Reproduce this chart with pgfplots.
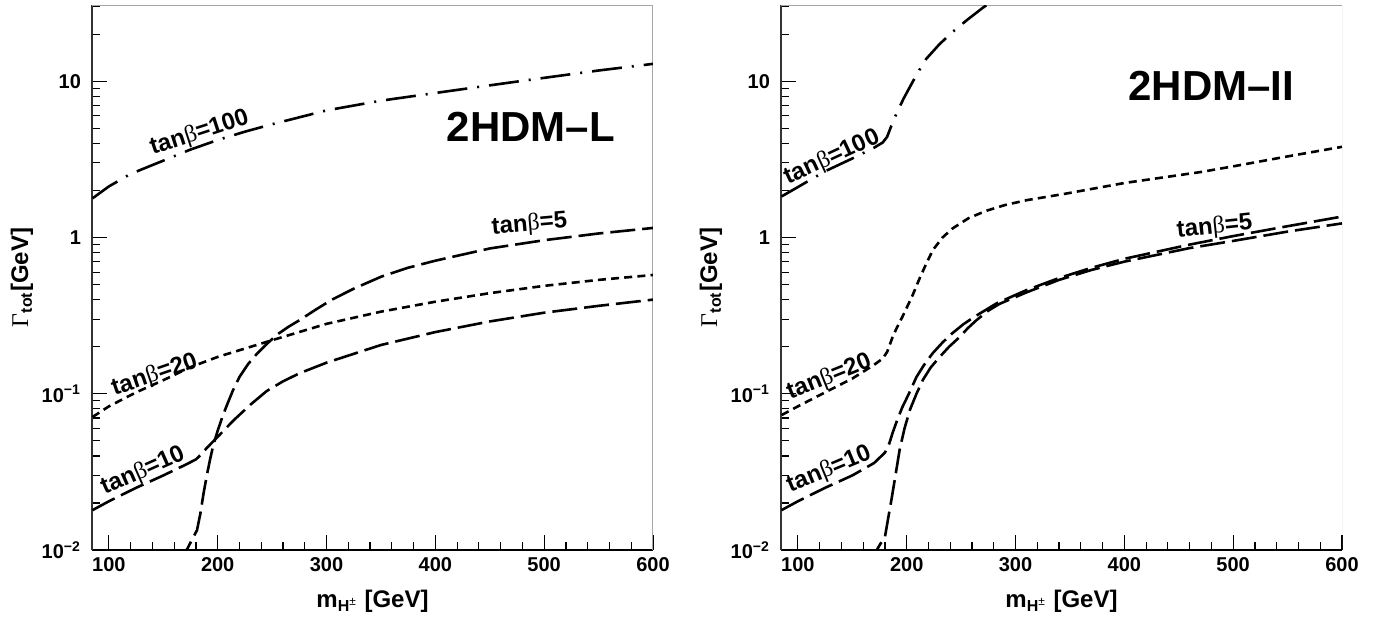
\documentclass[border=0pt]{standalone}
\usepackage{fontspec}
\setmainfont{Liberation Sans}
\newfontfamily\greekfont{Liberation Serif}
\usepackage{pgfplots}
\pgfplotsset{compat=1.18}

\newcommand{\tb}[1]{tan{\greekfont\mdseries β}=#1}

\pgfplotsset{every axis/.append style={
    scale only axis, width=280.5pt, height=272.5pt,
    xmin=84.5, xmax=600, ymin=0.01, ymax=30.7,
    axis x line*=bottom, axis y line*=left,
    x axis line style={-, line width=1.1pt},
    y axis line style={-, line width=0.6pt, black!80},
    xtick={100,200,300,400,500,600},
    xticklabels={100,200,300,400,500,600},
    minor x tick num=4,
    ytick={0.01,0.1,1,10},
    yticklabels={10\textsuperscript{−2},10\textsuperscript{−1},1,10},
    minor ytick={0.02,0.03,0.04,0.05,0.06,0.07,0.08,0.09,0.2,0.3,0.4,0.5,0.6,0.7,0.8,0.9,2,3,4,5,6,7,8,9,20,30},
    tick align=inside, major tick length=7.5pt, minor tick length=4pt,
    tick style={black, line width=0.6pt},
    xticklabel style={font=\bfseries\fontsize{10}{12}\selectfont},
    yticklabel style={font=\bfseries\fontsize{10}{12}\selectfont, xshift=-2pt},
}}
\tikzset{
  ldash/.style={black, line width=1.3pt, dash pattern=on 12.5pt off 3.5pt},
  sdash/.style={black, line width=1.3pt, dash pattern=on 4pt off 2.6pt},
  ddot/.style={black, line width=1.3pt, dash pattern=on 15pt off 5pt on 1pt off 5pt},
  lab/.style={font=\bfseries\fontsize{12}{14}\selectfont, anchor=base west, inner sep=0pt},
  ttl/.style={font=\bfseries\fontsize{21}{24}\selectfont},
}

\begin{document}
\begin{tikzpicture}
% ---------------- 2HDM-L ----------------
\begin{axis}[ymode=log, name=L, at={(0,0)}]
\draw[gray!70, line width=0.5pt] (rel axis cs:0,1) -- (rel axis cs:1,1) -- (rel axis cs:1,0);
% tan beta = 100
\addplot[ddot] coordinates {(85,1.78)(100,2.12)(120,2.55)(150,3.1)(175,3.65)(200,4.2)(225,4.75)(250,5.3)(300,6.5)(350,7.5)(400,8.4)(450,9.4)(500,10.5)(550,11.7)(600,12.9)};
% tan beta = 5
\addplot[ldash] coordinates {(168,0.008)(171.5,0.01)(176,0.0115)(181,0.0134)(184,0.017)(187,0.023)(190,0.03)(193,0.038)(196,0.047)(200,0.058)(204,0.07)(208,0.083)(214,0.105)(220,0.128)(228,0.155)(236,0.18)(245,0.208)(255,0.24)(265,0.268)(275,0.295)(290,0.345)(305,0.4)(325,0.47)(350,0.56)(375,0.64)(400,0.71)(450,0.85)(500,0.96)(550,1.06)(600,1.15)};
% tan beta = 20
\addplot[sdash] coordinates {(85,0.071)(100,0.083)(125,0.102)(150,0.122)(175,0.148)(200,0.172)(250,0.22)(300,0.28)(350,0.335)(400,0.388)(450,0.44)(500,0.49)(550,0.535)(600,0.575)};
% tan beta = 10
\addplot[ldash] coordinates {(85,0.018)(100,0.0205)(125,0.025)(150,0.030)(170,0.035)(180,0.038)(185,0.041)(190,0.045)(200,0.053)(215,0.068)(230,0.085)(245,0.104)(260,0.12)(275,0.135)(300,0.158)(350,0.205)(400,0.248)(450,0.29)(500,0.33)(550,0.365)(600,0.40)};
\node[lab, rotate=18] at (axis cs:140,3.37) {\tb{100}};
\node[lab, rotate=19] at (axis cs:105,0.097) {\tb{20}};
\node[lab, rotate=24] at (axis cs:96,0.0225) {\tb{10}};
\node[lab, rotate=5] at (axis cs:452,1.05) {\tb{5}};
\node[ttl] at (rel axis cs:0.782,0.776) {2HDM–L};
\end{axis}
% ---------------- 2HDM-II ----------------
\begin{axis}[ymode=log, name=R, at={(344.5pt,0)}]
\draw[gray!70, line width=0.5pt] (rel axis cs:0,1) -- (rel axis cs:1,1) -- (rel axis cs:1,0);
% tan beta = 100
\addplot[ddot] coordinates {(85,1.83)(100,2.1)(125,2.65)(150,3.2)(170,3.75)(178,4.05)(182,4.4)(186,5.2)(191,6.3)(197,7.7)(203,9.2)(210,11.3)(218,13.9)(230,17.2)(242,20.6)(256,24.8)(270,29.5)(280,33)};
% tan beta = 20
\addplot[sdash] coordinates {(85,0.073)(100,0.083)(125,0.102)(150,0.125)(170,0.153)(178,0.168)(182,0.185)(187,0.23)(191,0.265)(196,0.31)(205,0.42)(212,0.55)(218,0.68)(224,0.83)(233,1.0)(242,1.14)(257,1.33)(273,1.48)(290,1.61)(310,1.73)(345,1.9)(400,2.23)(470,2.62)(500,2.85)(550,3.3)(600,3.8)};
% tan beta = 10
\addplot[ldash] coordinates {(85,0.018)(100,0.0205)(125,0.025)(150,0.03)(170,0.036)(180,0.042)(184,0.048)(187,0.056)(191,0.067)(196,0.082)(202,0.1)(209,0.128)(216,0.153)(224,0.182)(233,0.213)(242,0.244)(252,0.278)(262,0.31)(283,0.38)(310,0.46)(340,0.55)(370,0.64)(400,0.73)(460,0.9)(500,1.02)(550,1.18)(600,1.36)};
% tan beta = 5
\addplot[ldash] coordinates {(168,0.008)(172.5,0.01)(176,0.011)(180,0.0121)(183,0.016)(186,0.021)(190,0.031)(193.5,0.0437)(198,0.06)(203,0.079)(209,0.1)(215,0.123)(222,0.147)(230,0.171)(239,0.2)(248.5,0.23)(256,0.262)(264,0.295)(275,0.34)(285,0.375)(310,0.445)(340,0.535)(370,0.62)(400,0.7)(460,0.855)(500,0.95)(550,1.09)(600,1.23)};
\node[lab, rotate=25] at (axis cs:91,2.16) {\tb{100}};
\node[lab, rotate=22] at (axis cs:92.7,0.091) {\tb{20}};
\node[lab, rotate=22.5] at (axis cs:92.7,0.0232) {\tb{10}};
\node[lab, rotate=6] at (axis cs:448.6,1.0) {\tb{5}};
\node[ttl] at (rel axis cs:0.767,0.851) {2HDM–II};
\end{axis}
% axis titles
\foreach \ax in {L,R} {
  \node[rotate=90, font=\bfseries\fontsize{12}{14}\selectfont] at ([xshift=-35pt]\ax.west)
    {{\greekfont\mdseries Γ}\textsubscript{tot}[GeV]};
  \node[anchor=base, font=\bfseries\fontsize{12}{14}\selectfont] at ([yshift=-28.5pt]\ax.south)
    {m\textsubscript{H\textsuperscript{\mdseries ±}} [GeV]};
}
\pgfresetboundingbox
\path[use as bounding box] (-46pt,-36.5pt) rectangle (643pt,275pt);
\end{tikzpicture}
\end{document}
